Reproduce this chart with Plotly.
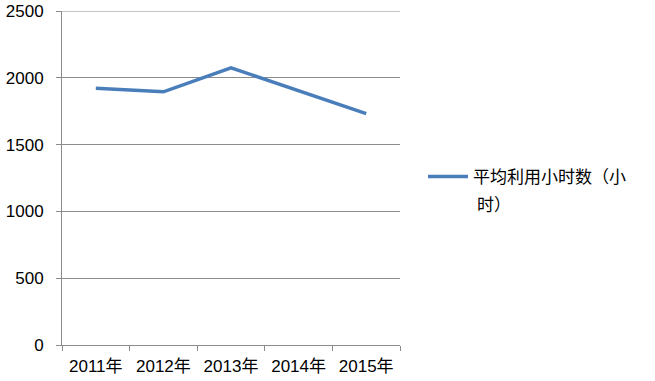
import plotly.graph_objects as go

years = ["2011年", "2012年", "2013年", "2014年", "2015年"]
hours = [1922, 1895, 2075, 1905, 1732]
y_ticks = [0, 500, 1000, 1500, 2000, 2500]
series_name = "平均利用小时数（小"
series_name_cont = "时）"

fig = go.Figure()
fig.add_trace(go.Scatter(
    x=years, y=hours, mode="lines", name=series_name,
    line=dict(color="#4a7ebb", width=3.5),
    showlegend=True,
))

fig.update_layout(
    width=655, height=381,
    margin=dict(l=62, r=255, t=11, b=36, autoexpand=False),
    paper_bgcolor="white", plot_bgcolor="white",
    font=dict(family="Liberation Sans, Noto Sans CJK SC", size=15, color="#000000"),
    showlegend=True,
    legend=dict(x=1.068, y=0.503, xanchor="left", yanchor="middle",
                font=dict(family="Noto Sans CJK SC", size=17, color="#000000"),
                bgcolor="rgba(0,0,0,0)", itemwidth=40),
)
# top gridline (plotly omits gridlines on the plot edge)
fig.add_shape(type="line", xref="paper", yref="y", x0=0, x1=1,
              y0=y_ticks[-1], y1=y_ticks[-1], line=dict(color="#8c8c8c", width=1),
              layer="below")
fig.add_annotation(
    text=series_name_cont, xref="paper", yref="paper",
    x=(475 - 62) / 338, y=(345 - 203) / 334, xanchor="left", yanchor="middle",
    showarrow=False, font=dict(family="Noto Sans CJK SC", size=17, color="#000000"),
)
fig.update_xaxes(
    type="category", range=[-0.5, 4.5], automargin=False,
    showline=True, linecolor="#8c8c8c", linewidth=1,
    ticks="outside", tickson="boundaries", ticklen=5, tickcolor="#8c8c8c",
    showgrid=False, ticklabelstandoff=6,
    tickfont=dict(family="Liberation Sans, Noto Sans CJK SC", size=17),
)
fig.update_yaxes(
    range=[y_ticks[0], y_ticks[-1]], tickvals=y_ticks, automargin=False,
    showline=True, linecolor="#8c8c8c", linewidth=1,
    ticks="outside", ticklen=5, tickcolor="#8c8c8c",
    showgrid=True, gridcolor="#8c8c8c", gridwidth=1,
    zeroline=False, ticklabelstandoff=9,
    tickfont=dict(family="Liberation Sans", size=17),
)

fig.write_html("out.html", config={"displayModeBar": False},
               post_script="document.body.style.margin='0';")
